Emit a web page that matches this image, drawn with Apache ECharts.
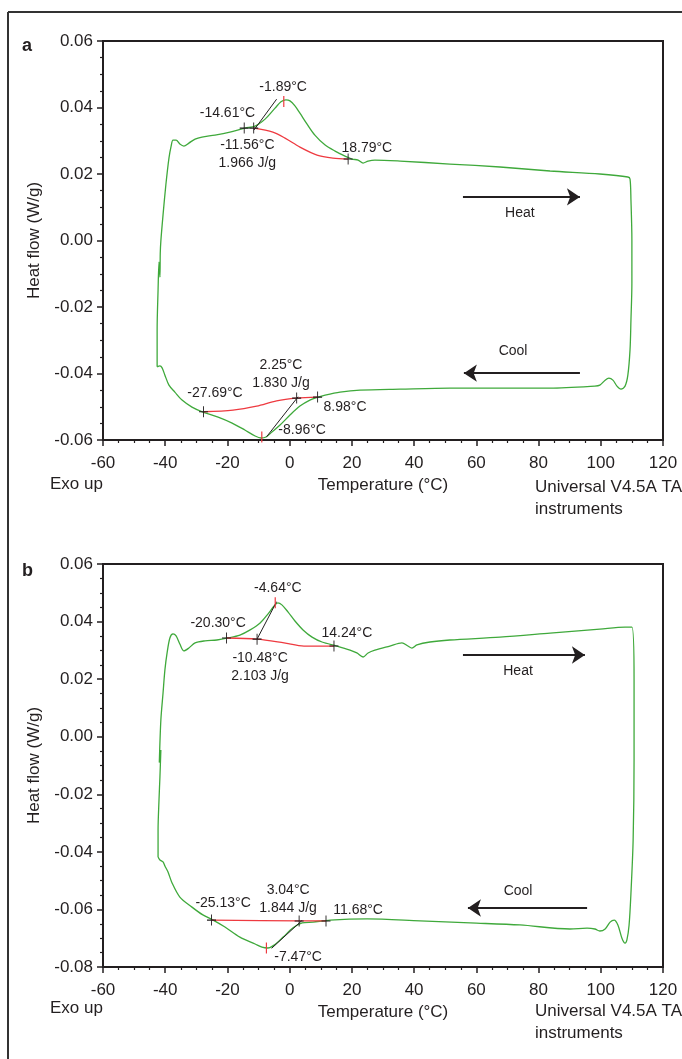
<!DOCTYPE html>
<html>
<head>
<meta charset="utf-8">
<script src="https://cdn.jsdelivr.net/npm/echarts@6/dist/echarts.min.js"></script>
<style>
  html, body { margin: 0; padding: 0; background: #fff; }
  #chart { width: 682px; height: 1059px; }
</style>
</head>
<body>
<div id="chart"></div>
<script>
// DSC heat/cool loops, panels a and b. Temperature in °C, heat flow in W/g.
var loopA = [
  [-42.6, -0.0380], [-42.6, -0.0269], [-42.3, -0.0149], [-42.0, -0.0065], [-41.7, -0.0110], [-41.6, -0.0040],
  [-41.4, -0.0001], [-40.7, 0.0077], [-39.8, 0.0167], [-38.8, 0.0248], [-38.1, 0.0284], [-37.5, 0.0302],
  [-36.5, 0.0302], [-35.3, 0.0290], [-34.0, 0.0284], [-32.4, 0.0293], [-30.4, 0.0305], [-28.2, 0.0311],
  [-24.0, 0.0317], [-19.2, 0.0326], [-14.4, 0.0338], [-11.1, 0.0344], [-7.9, 0.0365], [-4.7, 0.0398],
  [-2.8, 0.0417], [-1.2, 0.0423], [0.1, 0.0420], [1.7, 0.0405], [3.3, 0.0383], [5.6, 0.0350],
  [8.1, 0.0317], [11.4, 0.0287], [14.6, 0.0269], [17.8, 0.0254], [20.0, 0.0245], [22.0, 0.0242],
  [23.6, 0.0233], [25.2, 0.0239], [27.4, 0.0242], [35.5, 0.0239], [51.5, 0.0230], [67.6, 0.0221],
  [83.7, 0.0209], [99.7, 0.0200], [108.7, 0.0191], [109.4, 0.0185],
  [109.7, 0.0122], [110.0, 0.0001], [110.0, -0.0128], [109.7, -0.0239], [109.4, -0.0329], [108.7, -0.0405],
  [107.8, -0.0438], [106.5, -0.0447], [105.2, -0.0438], [103.9, -0.0420], [102.6, -0.0414], [101.4, -0.0420],
  [99.7, -0.0435], [98.1, -0.0438], [83.7, -0.0444], [67.6, -0.0444], [51.5, -0.0444], [35.5, -0.0447],
  [22.6, -0.0450], [16.2, -0.0456], [11.4, -0.0465], [9.1, -0.0471], [6.5, -0.0480], [3.3, -0.0498],
  [0.1, -0.0525], [-3.1, -0.0555], [-5.7, -0.0576], [-7.6, -0.0591], [-9.2, -0.0594], [-11.1, -0.0588],
  [-14.4, -0.0570], [-18.5, -0.0549], [-23.0, -0.0531], [-27.9, -0.0516], [-31.4, -0.0501], [-34.6, -0.0480],
  [-36.9, -0.0456], [-38.8, -0.0435], [-40.1, -0.0405], [-41.0, -0.0383], [-41.7, -0.0377], [-42.6, -0.0380]
];
var baseHeatA = [[-11.56, 0.0338], [-5.4, 0.0326], [-1.5, 0.0308], [3.3, 0.0281], [8.8, 0.0257], [13.9, 0.0248], [18.79, 0.0245]];
var baseCoolA = [[-27.69, -0.0515], [-18.2, -0.0510], [-10.6, -0.0498], [-4.2, -0.0482], [2.25, -0.0474], [8.98, -0.0471]];
var tangentHeatA = [[-11.5, 0.0332], [-4.2, 0.0425]];
var tangentCoolA = [[-7.4, -0.0590], [2.7, -0.0470]];
var onsetsA = [[-14.61, 0.0338], [-11.56, 0.0338], [18.79, 0.0245], [-27.69, -0.0515], [2.25, -0.0474], [8.98, -0.0471]];
var peaksA = [[-1.89, 0.0418], [-8.96, -0.0591]];
var notesA = [
  ['-1.89°C', -2.1, 0.0462], ['-14.61°C', -20.0, 0.0382], ['-11.56°C\n1.966 J/g', -13.6, 0.0260],
  ['18.79°C', 24.8, 0.0278], ['2.25°C\n1.830 J/g', -2.8, -0.0402], ['-27.69°C', -24.0, -0.0459],
  ['8.98°C', 17.8, -0.0501], ['-8.96°C', 4.0, -0.0570], ['Heat', 74.0, 0.0083], ['Cool', 71.8, -0.0332]
];
var arrowsA = [[[55.7, 0.0131], [93.3, 0.0131]], [[93.3, -0.0399], [56.0, -0.0399]]];

var loopB = [
  [-42.3, -0.0418], [-42.3, -0.0324], [-42.0, -0.0220], [-41.7, -0.0140], [-41.4, -0.0046], [-41.9, -0.0090],
  [-41.4, 0.0058], [-40.7, 0.0152], [-40.1, 0.0232], [-39.4, 0.0291], [-38.5, 0.0343], [-37.5, 0.0357],
  [-36.5, 0.0350], [-35.3, 0.0322], [-34.0, 0.0298], [-32.4, 0.0308], [-30.4, 0.0326], [-27.2, 0.0333],
  [-23.4, 0.0336], [-19.8, 0.0343], [-16.0, 0.0353], [-12.7, 0.0371], [-9.5, 0.0395], [-7.0, 0.0426],
  [-5.0, 0.0454], [-3.8, 0.0465], [-2.5, 0.0458], [-0.5, 0.0433], [1.7, 0.0402], [4.3, 0.0371],
  [7.2, 0.0346], [10.4, 0.0329], [15.2, 0.0315], [19.4, 0.0301], [21.6, 0.0291], [23.6, 0.0277],
  [25.2, 0.0291], [27.4, 0.0301], [32.2, 0.0315], [36.1, 0.0326], [38.0, 0.0315], [39.3, 0.0308],
  [40.9, 0.0319], [45.1, 0.0329], [51.5, 0.0336], [67.6, 0.0346], [83.7, 0.0360], [99.7, 0.0374],
  [107.8, 0.0381], [110.0, 0.0381],
  [110.7, 0.0197], [110.7, -0.0081], [110.4, -0.0359], [109.7, -0.0543], [109.1, -0.0654], [108.4, -0.0706],
  [107.8, -0.0717], [106.8, -0.0700], [105.5, -0.0654], [104.3, -0.0637], [103.0, -0.0644], [101.4, -0.0668],
  [99.7, -0.0675], [98.1, -0.0668], [95.6, -0.0665], [90.1, -0.0668], [74.0, -0.0654], [58.0, -0.0647],
  [41.9, -0.0640], [24.9, -0.0633], [13.0, -0.0637], [7.5, -0.0644], [4.0, -0.0647], [1.1, -0.0664],
  [-2.1, -0.0696], [-5.0, -0.0724], [-7.0, -0.0734], [-8.9, -0.0731], [-11.1, -0.0720], [-16.0, -0.0696],
  [-20.8, -0.0661], [-24.6, -0.0637], [-27.9, -0.0619], [-31.4, -0.0592], [-35.3, -0.0557], [-37.8, -0.0508],
  [-39.1, -0.0470], [-40.1, -0.0449], [-40.7, -0.0435], [-41.7, -0.0428], [-42.3, -0.0418]
];
var baseHeatB = [[-20.30, 0.0343], [-10.48, 0.0339], [-1.8, 0.0326], [4.6, 0.0315], [14.24, 0.0315]];
var baseCoolB = [[-25.13, -0.0637], [3.04, -0.0640], [11.68, -0.0640]];
var tangentHeatB = [[-10.48, 0.0339], [-4.2, 0.0469]];
var tangentCoolB = [[-5.8, -0.0735], [3.9, -0.0639]];
var onsetsB = [[-20.30, 0.0343], [-10.48, 0.0339], [14.24, 0.0315], [-25.13, -0.0637], [3.04, -0.0640], [11.68, -0.0640]];
var peaksB = [[-4.64, 0.0465], [-7.47, -0.0734]];
var notesB = [
  ['-4.64°C', -3.8, 0.0517], ['-20.30°C', -23.0, 0.0395], ['-10.48°C\n2.103 J/g', -9.5, 0.0243],
  ['14.24°C', 18.4, 0.0361], ['3.04°C\n1.844 J/g', -0.5, -0.0564], ['-25.13°C', -21.4, -0.0578],
  ['11.68°C', 22.0, -0.0602], ['-7.47°C', 2.7, -0.0765], ['Heat', 73.4, 0.0228], ['Cool', 73.4, -0.0536]
];
var arrowsB = [[[55.7, 0.0284], [94.9, 0.0284]], [[95.6, -0.0595], [57.3, -0.0595]]];

var FONT = "'Liberation Sans', Arial, sans-serif";
var INK = '#231f20';
var GREEN = '#3fa93b';
var RED = '#ee3a40';
var CROSS = 'path://M0,4.5H10V5.5H0Z M4.5,0H5.5V10H4.5Z';
var VTICK = 'path://M0,0H1V10H0Z';

function fmtY(v) {
  if (Math.abs(v) < 1e-9) return '0.00';
  return v.toFixed(2);
}

function axesFor(i, ymin) {
  var common = {
    gridIndex: i,
    type: 'value',
    axisLine: { onZero: false, lineStyle: { color: INK, width: 2 } },
    axisTick: { inside: false, length: 6, lineStyle: { color: INK, width: 1.5 } },
    minorTick: { show: true, splitNumber: 4, length: 3, lineStyle: { color: INK, width: 1.2 } },
    splitLine: { show: false },
    minorSplitLine: { show: false }
  };
  var x = Object.assign({}, common, {
    min: -60, max: 120, interval: 20,
    name: 'Temperature (°C)', nameLocation: 'middle', nameGap: 37,
    nameTextStyle: { fontFamily: FONT, fontSize: 17, color: INK },
    axisLabel: { margin: 15, fontFamily: FONT, fontSize: 17, color: INK }
  });
  var y = Object.assign({}, common, {
    min: ymin, max: 0.06, interval: 0.02,
    name: 'Heat flow (W/g)', nameLocation: 'middle', nameGap: 60,
    nameTextStyle: { fontFamily: FONT, fontSize: 17, color: INK },
    axisLabel: { margin: 10, fontFamily: FONT, fontSize: 17, color: INK, formatter: fmtY }
  });
  return { x: x, y: y };
}

function lineOf(i, data, color, width) {
  return {
    type: 'line', xAxisIndex: i, yAxisIndex: i, data: data,
    showSymbol: false, symbol: 'none', smooth: 0.3,
    lineStyle: { color: color, width: width }, silent: true, z: 3
  };
}

function panelSeries(i, loop, baseH, baseC, tanH, tanC, onsets, peaks, notes, arrows) {
  var list = [];
  list.push(lineOf(i, loop, GREEN, 1.3));
  list.push(lineOf(i, baseH, RED, 1.3));
  list.push(lineOf(i, baseC, RED, 1.3));
  var th = lineOf(i, tanH, INK, 1); th.smooth = false; list.push(th);
  var tc = lineOf(i, tanC, INK, 1); tc.smooth = false; list.push(tc);
  list.push({
    type: 'scatter', xAxisIndex: i, yAxisIndex: i, data: onsets,
    symbol: CROSS, symbolSize: [9, 11], itemStyle: { color: INK, opacity: 1 }, silent: true, z: 5
  });
  list.push({
    type: 'scatter', xAxisIndex: i, yAxisIndex: i, data: peaks,
    symbol: VTICK, symbolSize: [1.2, 11], itemStyle: { color: RED, opacity: 1 }, silent: true, z: 5
  });
  list.push({
    type: 'scatter', xAxisIndex: i, yAxisIndex: i,
    data: notes.map(function (n) { return { name: n[0], value: [n[1], n[2]] }; }),
    symbolSize: 1, itemStyle: { color: 'rgba(0,0,0,0)', opacity: 1 }, silent: true, z: 6,
    label: {
      show: true, position: 'inside', formatter: '{b}', opacity: 1,
      fontFamily: FONT, fontSize: 14, lineHeight: 18, color: INK, align: 'center'
    }
  });
  list.push({
    type: 'line', xAxisIndex: i, yAxisIndex: i, data: [], silent: true,
    markLine: {
      silent: true, animation: false,
      symbol: ['none', 'arrow'], symbolSize: 13,
      lineStyle: { color: INK, width: 2, type: 'solid' },
      itemStyle: { color: INK },
      label: { show: false },
      data: arrows.map(function (a) { return [{ coord: a[0] }, { coord: a[1] }]; })
    }
  });
  return list;
}

var axA = axesFor(0, -0.06);
var axB = axesFor(1, -0.08);

function footer(y) {
  var s = { fontFamily: FONT, fontSize: 17, fill: INK };
  return [
    { type: 'text', left: 50, top: y, style: Object.assign({ text: 'Exo up' }, s) },
    { type: 'text', left: 535, top: y, style: Object.assign({ text: 'Universal V4.5A TA\ninstruments', lineHeight: 22 }, s) }
  ];
}

var option = {
  animation: false,
  backgroundColor: '#fff',
  grid: [
    { left: 103, top: 41, width: 560, height: 399, show: true, borderColor: INK, borderWidth: 2, backgroundColor: 'transparent' },
    { left: 103, top: 564, width: 560, height: 403, show: true, borderColor: INK, borderWidth: 2, backgroundColor: 'transparent' }
  ],
  xAxis: [axA.x, axB.x],
  yAxis: [axA.y, axB.y],
  graphic: [
    { type: 'line', shape: { x1: 8, y1: 12, x2: 8, y2: 1059 }, style: { stroke: '#333', lineWidth: 2 } },
    { type: 'line', shape: { x1: 8, y1: 12, x2: 682, y2: 12 }, style: { stroke: '#333', lineWidth: 2 } },
    { type: 'text', left: 22, top: 37, style: { text: 'a', fontFamily: FONT, fontSize: 18, fontWeight: 'bold', fill: INK } },
    { type: 'text', left: 22, top: 562, style: { text: 'b', fontFamily: FONT, fontSize: 18, fontWeight: 'bold', fill: INK } }
  ].concat(footer(476), footer(1000)),
  series: panelSeries(0, loopA, baseHeatA, baseCoolA, tangentHeatA, tangentCoolA, onsetsA, peaksA, notesA, arrowsA)
    .concat(panelSeries(1, loopB, baseHeatB, baseCoolB, tangentHeatB, tangentCoolB, onsetsB, peaksB, notesB, arrowsB))
};

var chart = echarts.init(document.getElementById('chart'));
chart.setOption(option);
</script>
</body>
</html>
